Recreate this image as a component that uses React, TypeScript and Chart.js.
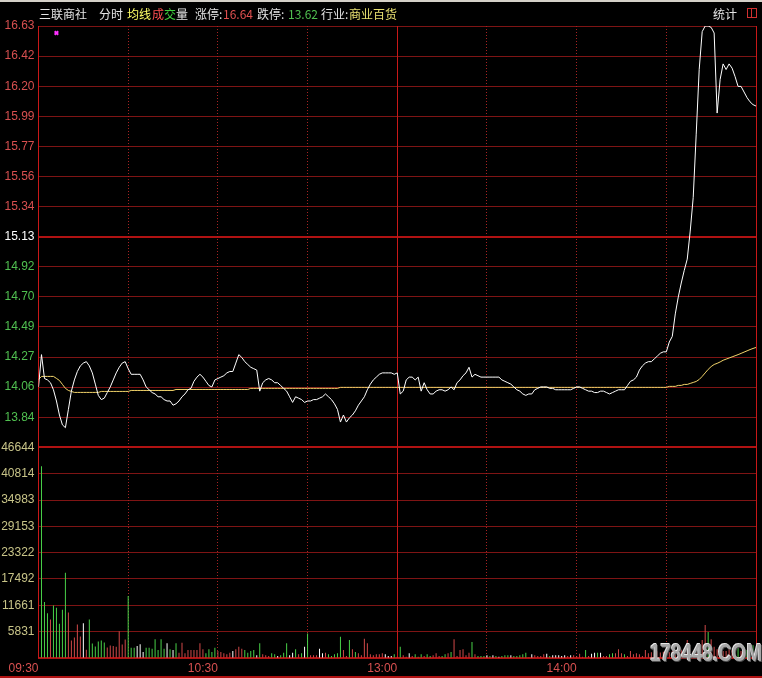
import { useEffect, useRef } from 'react';
import { Chart, registerables } from 'chart.js';

Chart.register(...registerables);

// ---------- header texts ----------
const STOCK_NAME = '三联商社';
const INDUSTRY = '商业百货';
const LIMIT_UP = '16.64';
const LIMIT_DOWN = '13.62';
const WATERMARK = '178448.COM';

// ---------- axes ----------
const xTickLabels = ['09:30', '', '10:30', '', '13:00', '', '14:00', '', ''];
const priceTickLabels = ['16.63', '16.42', '16.20', '15.99', '15.77', '15.56', '15.34', '15.13', '14.92', '14.70', '14.49', '14.27', '14.06', '13.84'];
const volumeTickLabels = ['46644', '40814', '34983', '29153', '23322', '17492', '11661', '5831'];
const PRICE_MAX = 16.63;
const PRICE_MIN = 13.63;
const VOLUME_MAX = 46644;
const MINUTES = 240;

// ---------- series (one value per minute, 09:30 .. 15:00) ----------
const prices = [
  14.06, 14.29, 14.12, 14.11, 14.09, 14.04, 13.96, 13.86, 13.79, 13.77,
  13.90, 14.03, 14.11, 14.17, 14.21, 14.23, 14.24, 14.21, 14.16, 14.08,
  14.00, 13.97, 13.98, 14.02, 14.06, 14.11, 14.16, 14.20, 14.23, 14.24,
  14.19, 14.15, 14.15, 14.15, 14.15, 14.11, 14.06, 14.04, 14.02, 14.01,
  13.99, 13.99, 13.97, 13.96, 13.96, 13.93, 13.94, 13.96, 13.99, 14.01,
  14.04, 14.05, 14.10, 14.13, 14.15, 14.13, 14.10, 14.07, 14.06, 14.11,
  14.12, 14.13, 14.14, 14.16, 14.17, 14.17, 14.23, 14.29, 14.27, 14.24,
  14.22, 14.20, 14.19, 14.18, 14.03, 14.09, 14.11, 14.12, 14.11, 14.09,
  14.09, 14.07, 14.05, 14.03, 13.99, 13.95, 13.99, 13.98, 13.97, 13.95,
  13.96, 13.96, 13.97, 13.97, 13.98, 13.99, 14.01, 13.99, 13.97, 13.94,
  13.90, 13.81, 13.86, 13.81, 13.84, 13.86, 13.89, 13.93, 13.96, 13.99,
  14.04, 14.08, 14.11, 14.13, 14.15, 14.16, 14.16, 14.16, 14.16, 14.15,
  14.16, 14.01, 14.03, 14.11, 14.13, 14.13, 14.11, 14.13, 14.03, 14.09,
  14.04, 14.01, 14.01, 14.03, 14.04, 14.04, 14.03, 14.04, 14.06, 14.04,
  14.09, 14.11, 14.14, 14.16, 14.20, 14.13, 14.15, 14.14, 14.13, 14.13,
  14.13, 14.13, 14.13, 14.13, 14.13, 14.11, 14.10, 14.09, 14.08, 14.06,
  14.04, 14.03, 14.01, 14.00, 14.01, 14.01, 14.04, 14.05, 14.06, 14.06,
  14.06, 14.05, 14.05, 14.04, 14.04, 14.04, 14.04, 14.04, 14.04, 14.05,
  14.06, 14.06, 14.05, 14.04, 14.03, 14.03, 14.02, 14.02, 14.03, 14.03,
  14.02, 14.01, 14.02, 14.03, 14.04, 14.04, 14.04, 14.07, 14.10, 14.11,
  14.13, 14.18, 14.21, 14.23, 14.24, 14.24, 14.26, 14.28, 14.30, 14.31,
  14.31, 14.38, 14.42, 14.58, 14.70, 14.80, 14.89, 14.97, 15.17, 15.41,
  15.86, 16.32, 16.59, 16.63, 16.63, 16.62, 16.58, 16.01, 16.25, 16.36,
  16.32, 16.36, 16.33, 16.27, 16.20, 16.20, 16.16, 16.12, 16.09, 16.07,
  16.06,
];

const avgPrices = [
  14.113, 14.135, 14.135, 14.135, 14.135, 14.135, 14.121, 14.106, 14.078, 14.050,
  14.035, 14.028, 14.021, 14.021, 14.021, 14.021, 14.021, 14.021, 14.021, 14.021,
  14.021, 14.028, 14.028, 14.028, 14.028, 14.028, 14.028, 14.028, 14.028, 14.028,
  14.028, 14.035, 14.035, 14.035, 14.035, 14.035, 14.035, 14.035, 14.035, 14.035,
  14.035, 14.035, 14.035, 14.035, 14.035, 14.035, 14.042, 14.042, 14.042, 14.042,
  14.042, 14.042, 14.042, 14.042, 14.042, 14.042, 14.042, 14.042, 14.042, 14.042,
  14.042, 14.042, 14.042, 14.042, 14.042, 14.042, 14.042, 14.042, 14.042, 14.042,
  14.042, 14.050, 14.050, 14.050, 14.050, 14.050, 14.050, 14.050, 14.050, 14.050,
  14.050, 14.050, 14.050, 14.050, 14.050, 14.050, 14.050, 14.050, 14.050, 14.050,
  14.050, 14.050, 14.050, 14.050, 14.050, 14.050, 14.050, 14.050, 14.050, 14.050,
  14.050, 14.057, 14.057, 14.057, 14.057, 14.057, 14.057, 14.057, 14.057, 14.057,
  14.057, 14.057, 14.057, 14.057, 14.057, 14.057, 14.057, 14.057, 14.057, 14.057,
  14.057, 14.057, 14.057, 14.057, 14.057, 14.057, 14.057, 14.057, 14.057, 14.057,
  14.057, 14.057, 14.057, 14.057, 14.057, 14.057, 14.057, 14.057, 14.057, 14.057,
  14.057, 14.057, 14.057, 14.057, 14.057, 14.057, 14.057, 14.057, 14.057, 14.057,
  14.057, 14.057, 14.057, 14.057, 14.057, 14.057, 14.057, 14.057, 14.057, 14.057,
  14.057, 14.057, 14.057, 14.057, 14.057, 14.057, 14.057, 14.057, 14.057, 14.057,
  14.057, 14.057, 14.057, 14.057, 14.057, 14.057, 14.057, 14.057, 14.057, 14.057,
  14.057, 14.057, 14.057, 14.057, 14.057, 14.057, 14.057, 14.057, 14.057, 14.057,
  14.057, 14.057, 14.057, 14.057, 14.057, 14.057, 14.057, 14.057, 14.057, 14.057,
  14.057, 14.057, 14.057, 14.057, 14.057, 14.057, 14.057, 14.057, 14.057, 14.057,
  14.057, 14.064, 14.064, 14.064, 14.071, 14.071, 14.078, 14.078, 14.085, 14.092,
  14.099, 14.113, 14.135, 14.160, 14.185, 14.205, 14.220, 14.228, 14.238, 14.250,
  14.258, 14.266, 14.274, 14.282, 14.290, 14.299, 14.308, 14.317, 14.326, 14.334,
  14.341,
];

const volumes = [
  0, 42440, 12400, 9900, 8500, 11600, 11100, 7600, 10700, 18900,
  10100, 3850, 4550, 7400, 4750, 7700, 1850, 8500, 3200, 2550,
  3650, 3850, 3450, 2300, 2750, 2650, 2500, 5900, 3000, 4100,
  13700, 2280, 2280, 2650, 3020, 1330, 2280, 2280, 2060, 4130,
  1770, 4130, 2060, 3240, 1920, 1770, 3240, 1180, 3390, 1030,
  1770, 1770, 1770, 1770, 3240, 1920, 1030, 1920, 1330, 2280,
  1550, 1330, 1030, 810, 1180, 1550, 1920, 2500, 2060, 1770,
  1180, 1550, 1770, 590, 3240, 810, 590, 440, 1030, 810,
  440, 590, 1180, 3240, 590, 1180, 1920, 810, 1030, 2500,
  5450, 590, 590, 590, 2060, 1030, 1180, 810, 440, 810,
  1030, 4720, 1770, 440, 3980, 1920, 1330, 1030, 590, 4270,
  3240, 810, 590, 810, 810, 1030, 810, 440, 440, 810,
  300, 2500, 590, 300, 1030, 440, 810, 300, 810, 440,
  810, 440, 590, 1030, 440, 440, 810, 1030, 1330, 4130,
  440, 1770, 1920, 590, 1180, 3540, 810, 440, 440, 440,
  590, 440, 590, 440, 300, 440, 590, 590, 590, 440,
  440, 590, 810, 1180, 150, 810, 590, 440, 440, 810,
  960, 440, 590, 590, 590, 440, 590, 440, 590, 590,
  440, 960, 300, 1770, 440, 960, 1180, 1180, 1180, 440,
  440, 810, 1030, 1030, 1920, 1030, 810, 440, 1550, 810,
  1030, 810, 440, 1770, 1030, 1300, 1100, 1500, 1200, 1400,
  1600, 1300, 1500, 1400, 1600, 1800, 2000, 3980, 2200, 1500,
  1700, 2000, 3980, 7300, 5750, 4130, 2500, 1920, 2060, 1550,
  1550, 1920, 1770, 2060, 2280, 1550, 2500, 1770, 1920, 2800,
  1920,
];

// g = 卖盘 (green), r = 买盘 (red), w = 中性 (white)
const volumeDirections = [
  'w', 'g', 'g', 'g', 'r', 'g', 'g', 'g', 'g', 'g',
  'r', 'r', 'r', 'r', 'r', 'w', 'r', 'g', 'g', 'g',
  'g', 'g', 'g', 'r', 'r', 'r', 'r', 'r', 'r', 'r',
  'g', 'g', 'g', 'w', 'w', 'w', 'g', 'g', 'g', 'g',
  'g', 'g', 'g', 'w', 'g', 'w', 'g', 'r', 'r', 'r',
  'r', 'r', 'r', 'r', 'r', 'r', 'g', 'g', 'g', 'g',
  'r', 'r', 'r', 'r', 'r', 'w', 'r', 'r', 'r', 'g',
  'g', 'g', 'g', 'w', 'g', 'r', 'r', 'r', 'g', 'g',
  'w', 'g', 'g', 'g', 'w', 'w', 'g', 'r', 'g', 'w',
  'g', 'r', 'r', 'r', 'w', 'w', 'r', 'g', 'g', 'g',
  'g', 'g', 'r', 'r', 'g', 'r', 'g', 'r', 'r', 'r',
  'r', 'r', 'r', 'r', 'r', 'r', 'w', 'w', 'w', 'g',
  'r', 'g', 'r', 'r', 'w', 'r', 'g', 'g', 'g', 'r',
  'g', 'g', 'r', 'r', 'r', 'g', 'g', 'r', 'g', 'r',
  'r', 'r', 'r', 'r', 'r', 'g', 'r', 'g', 'g', 'g',
  'w', 'g', 'w', 'g', 'w', 'g', 'g', 'g', 'w', 'g',
  'g', 'g', 'g', 'g', 'g', 'w', 'r', 'r', 'r', 'r',
  'w', 'g', 'w', 'w', 'w', 'w', 'w', 'r', 'w', 'r',
  'r', 'r', 'r', 'g', 'r', 'w', 'w', 'g', 'w', 'r',
  'r', 'g', 'g', 'r', 'r', 'r', 'g', 'r', 'r', 'r',
  'r', 'r', 'r', 'r', 'r', 'r', 'r', 'r', 'r', 'r',
  'r', 'r', 'r', 'r', 'r', 'r', 'r', 'r', 'r', 'r',
  'r', 'r', 'r', 'r', 'g', 'r', 'r', 'r', 'r', 'r',
  'r', 'r', 'r', 'r', 'g', 'r', 'g', 'g', 'g', 'g',
  'g',
];

const markerPoint = [{ x: 6, y: 16.58 }];

// ---------- styles ----------
const GRID = '#7e1414';
const GRID_STRONG = '#b01212';
const GRID_DOT = '#a82222';
const GRID_SOLID_V = '#c81818';
const UP_TEXT = '#d85050';
const DOWN_TEXT = '#50c050';
const VOL_TEXT = '#c8c488';
const barColors: Record<string, string> = { g: '#48d048', r: '#d04848', w: '#ffffff' };
const AXIS_FONT = { family: "'Liberation Sans', Arial, sans-serif", size: 12 };

// vertical time grid, drawn from the x scale's own ticks
const timeGridPlugin = {
  id: 'timeGrid',
  beforeDatasetsDraw(chart: any) {
    const { ctx, chartArea, scales } = chart;
    const xs = scales.x;
    ctx.save();
    for (const t of xs.ticks) {
      const px = Math.round(xs.getPixelForValue(t.value) - 0.5) + 0.5;
      const solid = t.value % 120 === 0;
      ctx.lineWidth = 1;
      ctx.strokeStyle = solid ? GRID_SOLID_V : GRID_DOT;
      ctx.setLineDash(solid ? [] : [1, 2]);
      ctx.beginPath();
      ctx.moveTo(px, chartArea.top);
      ctx.lineTo(px, chartArea.bottom);
      ctx.stroke();
    }
    ctx.restore();
  },
};

export default function App() {
  const canvasRef = useRef<HTMLCanvasElement | null>(null);

  useEffect(() => {
    document.body.style.margin = '0';
    document.body.style.background = '#000';
    const canvas = canvasRef.current;
    if (!canvas) return;
    const priceStep = (PRICE_MAX - PRICE_MIN) / priceTickLabels.length;
    const priceIndex = (v: number) => Math.round((PRICE_MAX - v) / priceStep);

    const chart = new Chart(canvas, {
      type: 'line',
      plugins: [timeGridPlugin],
      data: {
        datasets: [
          {
            type: 'line',
            data: prices.map((y, x) => ({ x, y })),
            borderColor: '#ffffff',
            borderWidth: 1,
            pointRadius: 0,
            tension: 0,
            yAxisID: 'y',
            order: 1,
          },
          {
            type: 'line',
            data: avgPrices.map((y, x) => ({ x, y })),
            borderColor: '#f2d46a',
            borderWidth: 1,
            pointRadius: 0,
            tension: 0,
            yAxisID: 'y',
            order: 2,
          },
          {
            type: 'line',
            data: markerPoint,
            showLine: false,
            pointStyle: 'crossRot',
            pointRadius: 2.5,
            pointBorderWidth: 2,
            pointBorderColor: '#ff30ff',
            yAxisID: 'y',
            order: 0,
          },
          {
            type: 'bar',
            data: volumes.map((y, x) => ({ x, y })),
            backgroundColor: volumeDirections.map((d) => barColors[d]),
            borderWidth: 0,
            barThickness: 1,
            inflateAmount: 0,
            yAxisID: 'yVol',
            order: 3,
          },
        ] as any,
      },
      options: {
        animation: false,
        responsive: false,
        maintainAspectRatio: false,
        layout: { padding: { top: 26, right: 3.5, bottom: 0, left: 0 } },
        plugins: { legend: { display: false }, tooltip: { enabled: false } },
        scales: {
          x: {
            type: 'linear',
            min: 0,
            max: MINUTES,
            offset: false,
            ticks: {
              stepSize: 30,
              autoSkip: false,
              maxRotation: 0,
              align: 'end',
              padding: 3,
              color: UP_TEXT,
              font: AXIS_FONT,
              callback: (v: any) => xTickLabels[Math.round(Number(v) / 30)] ?? '',
            },
            grid: { display: false, offset: false, drawTicks: false },
            border: { display: true, color: GRID_STRONG, width: 2 },
            afterFit: (s: any) => {
              s.height = 20;
            },
          },
          yVol: {
            type: 'linear',
            position: 'left',
            stack: 'panels',
            stackWeight: 1,
            min: 0,
            max: VOLUME_MAX,
            afterBuildTicks: (s: any) => {
              s.ticks = [0, ...volumeTickLabels.map(Number).reverse()].map((value) => ({ value }));
            },
            ticks: {
              autoSkip: false,
              padding: 4,
              color: VOL_TEXT,
              font: AXIS_FONT,
              callback: (v: any) => (Number(v) === 0 ? '' : String(v)),
            },
            grid: {
              drawTicks: false,
              color: (ctx: any) => (ctx.tick && ctx.tick.value === VOLUME_MAX ? GRID_STRONG : GRID),
              lineWidth: (ctx: any) => (ctx.tick && ctx.tick.value === VOLUME_MAX ? 2 : 1),
            },
            border: { display: false },
            afterFit: (s: any) => {
              s.width = 38.5;
            },
          },
          y: {
            type: 'linear',
            position: 'left',
            stack: 'panels',
            stackWeight: 2,
            min: PRICE_MIN,
            max: PRICE_MAX,
            afterBuildTicks: (s: any) => {
              const ticks = [];
              for (let k = priceTickLabels.length; k >= 0; k--) {
                ticks.push({ value: PRICE_MAX - k * priceStep });
              }
              s.ticks = ticks;
            },
            ticks: {
              autoSkip: false,
              padding: 4,
              font: AXIS_FONT,
              color: (ctx: any) => {
                const k = ctx.tick ? priceIndex(ctx.tick.value) : 0;
                return k < 7 ? UP_TEXT : k === 7 ? '#ffffff' : DOWN_TEXT;
              },
              callback: (v: any) => priceTickLabels[priceIndex(Number(v))] ?? '',
            },
            grid: {
              drawTicks: false,
              color: (ctx: any) => {
                const k = ctx.tick ? priceIndex(ctx.tick.value) : 0;
                return k === 7 || k === 14 ? GRID_STRONG : GRID;
              },
              lineWidth: (ctx: any) => {
                const k = ctx.tick ? priceIndex(ctx.tick.value) : 0;
                return k === 7 || k === 14 ? 2 : 1;
              },
            },
            border: { display: false },
            afterFit: (s: any) => {
              s.width = 38.5;
            },
          },
        },
      } as any,
    });
    return () => chart.destroy();
  }, []);

  const headerFont = "'Noto Sans CJK SC', 'Liberation Sans', sans-serif";
  const span = (left: number, color: string, text: string) => (
    <span
      style={{
        position: 'absolute',
        left,
        top: 7,
        color,
        fontSize: 12,
        lineHeight: '14px',
        fontFamily: headerFont,
        whiteSpace: 'nowrap',
      }}
    >
      {text}
    </span>
  );

  return (
    <div style={{ position: 'fixed', left: 0, top: 0, width: 762, height: 678, background: '#000', overflow: 'hidden' }}>
      <canvas ref={canvasRef} width={762} height={678} style={{ position: 'absolute', left: 0, top: 0, width: 762, height: 678 }} />
      <div style={{ position: 'absolute', left: 0, top: 0, width: 762, height: 2, background: '#d4d0c8' }} />
      {span(39, '#e4e4e4', STOCK_NAME)}
      {span(99, '#e4e4e4', '分时')}
      {span(127, '#ffff66', '均线')}
      {span(152, '#ff5050', '成')}
      {span(164, '#40d040', '交')}
      {span(176, '#e4e4e4', '量')}
      {span(195, '#e4e4e4', '涨停:')}
      {span(223, '#e05050', LIMIT_UP)}
      {span(257, '#e4e4e4', '跌停:')}
      {span(288, '#50c050', LIMIT_DOWN)}
      {span(321, '#e4e4e4', '行业:')}
      {span(349, '#e8e070', INDUSTRY)}
      {span(713, '#e4e4e4', '统计')}
      <div style={{ position: 'absolute', left: 747, top: 8, width: 8, height: 8, border: '1px solid #d03030' }}>
        <div style={{ position: 'absolute', left: 3, top: 0, width: 1, height: 8, background: '#d03030' }} />
      </div>
      <div style={{ position: 'absolute', left: 0, top: 676, width: 762, height: 2, background: GRID_STRONG }} />
      <div
        style={{
          position: 'absolute',
          left: 650,
          top: 641,
          fontFamily: "'Liberation Sans Narrow', 'Liberation Sans', sans-serif",
          fontWeight: 'bold',
          fontSize: 23,
          lineHeight: '24px',
          color: '#a8a8a8',
          transform: 'scaleX(0.82)',
          transformOrigin: 'left top',
          textShadow: '-1px -1px 0 #e8e8e8, 1px 1px 0 #505050',
          whiteSpace: 'nowrap',
        }}
      >
        {WATERMARK}
      </div>
    </div>
  );
}
